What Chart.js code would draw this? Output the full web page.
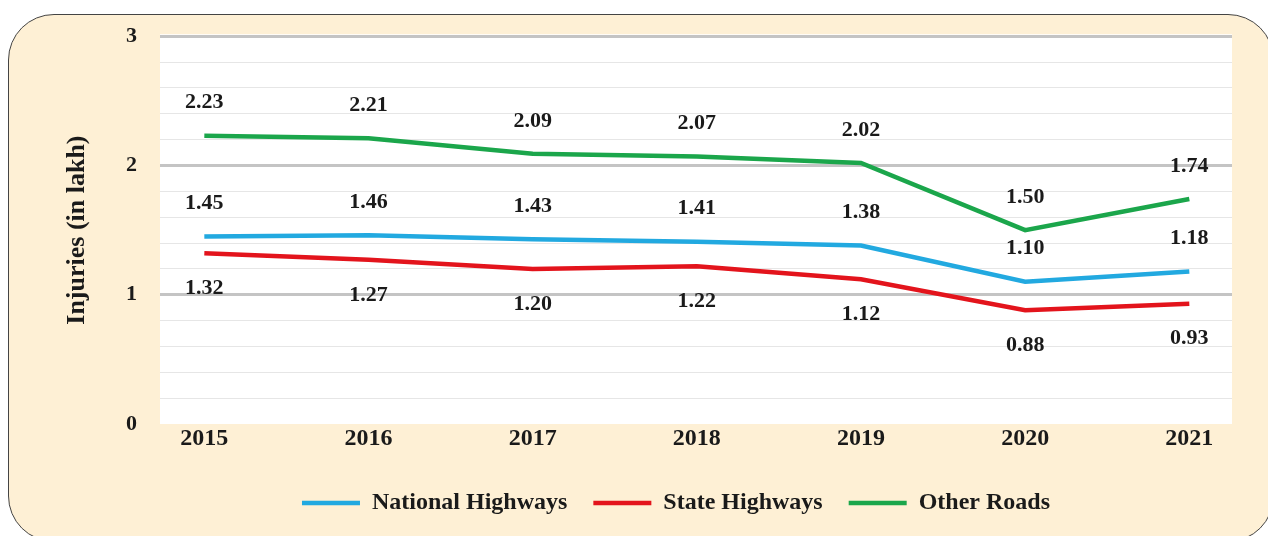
<!DOCTYPE html>
<html>
<head>
<meta charset="utf-8">
<script src="https://cdn.jsdelivr.net/npm/chart.js@4.4.0/dist/chart.umd.min.js"></script>
<style>
  html, body { margin: 0; padding: 0; background: #fff; }
  #wrap { position: relative; width: 1268px; height: 536px; overflow: hidden; }
  #box { position: absolute; left: 8px; top: 14px; width: 1266px; height: 528px; box-sizing: border-box;
         background: #fef0d5; border: 1px solid #444; border-radius: 46px; }
  canvas { position: absolute; left: 0; top: 0; }
</style>
</head>
<body>
<div id="wrap">
  <div id="box"></div>
  <canvas id="grafico" width="1268" height="536"></canvas>
</div>
<script>
// datos del grafico
var years = [2015, 2016, 2017, 2018, 2019, 2020, 2021];
var nationalHighways = [1.45, 1.46, 1.43, 1.41, 1.38, 1.10, 1.18];
var stateHighways = [1.32, 1.27, 1.20, 1.22, 1.12, 0.88, 0.93];
var otherRoads = [2.23, 2.21, 2.09, 2.07, 2.02, 1.50, 1.74];
var yTicks = [0, 1, 2, 3];

var serif = "'Liberation Serif', 'Times New Roman', serif";

function toPoints(values) { //junta años y valores
    return years.map((y, i) => ({ x: y, y: values[i] }));
}

function isInt(v) {
    return Math.abs(v - Math.round(v)) < 1e-6;
}

var fondoBlanco = { //pinta el area del grafico en blanco
    id: 'fondoBlanco',
    beforeDraw(chart) {
        var a = chart.chartArea;
        var ctx = chart.ctx;
        ctx.save();
        ctx.fillStyle = '#ffffff';
        ctx.fillRect(a.left, a.top - 2, a.right - a.left, a.bottom - a.top + 2);
        ctx.restore();
    }
};

var moverLeyenda = { //corre la leyenda un poco a la derecha
    id: 'moverLeyenda',
    afterLayout(chart) {
        chart.legend.left += 30;
        chart.legend.right += 30;
    }
};

var etiquetas = { //valores encima/debajo de cada punto
    id: 'etiquetas',
    afterDatasetsDraw(chart) {
        var ctx = chart.ctx;
        ctx.save();
        ctx.font = 'bold 22px ' + serif;
        ctx.fillStyle = '#1a1a1a';
        ctx.textAlign = 'center';
        ctx.textBaseline = 'middle';
        chart.data.datasets.forEach((ds, i) => {
            var meta = chart.getDatasetMeta(i);
            meta.data.forEach((pt, j) => {
                ctx.fillText(ds.data[j].y.toFixed(2), pt.x, pt.y + ds.labelOffset);
            });
        });
        ctx.restore();
    }
};

var popCanvas = document.getElementById("grafico");
var lineChart = new Chart(popCanvas, {
    type: 'line',
    data: {
        datasets: [{
            label: 'National Highways',
            data: toPoints(nationalHighways),
            borderColor: '#22a9e0',
            backgroundColor: '#22a9e0',
            borderWidth: 4.5,
            pointRadius: 0,
            labelOffset: -33
        }, {
            label: 'State Highways',
            data: toPoints(stateHighways),
            borderColor: '#e3141c',
            backgroundColor: '#e3141c',
            borderWidth: 4.5,
            pointRadius: 0,
            labelOffset: 35
        }, {
            label: 'Other Roads',
            data: toPoints(otherRoads),
            borderColor: '#1ba64b',
            backgroundColor: '#1ba64b',
            borderWidth: 4.5,
            pointRadius: 0,
            labelOffset: -33
        }]
    },
    options: {
        responsive: false,
        animation: false,
        layout: { padding: { left: 60, right: 36, top: 36, bottom: 11 } },
        plugins: {
            tooltip: { enabled: false },
            legend: {
                position: 'bottom',
                labels: {
                    usePointStyle: true,
                    pointStyle: 'line',
                    pointStyleWidth: 58,
                    padding: 26,
                    color: '#1a1a1a',
                    font: { family: serif, size: 24, weight: 'bold' }
                }
            }
        },
        scales: {
            x: {
                type: 'linear',
                min: 2014.73,
                max: 2021.26,
                afterBuildTicks: s => { s.ticks = years.map(v => ({ value: v })); },
                afterFit: s => { s.height = 41; },
                grid: { display: false, drawTicks: false },
                border: { display: false },
                ticks: {
                    padding: 0,
                    autoSkip: false,
                    color: '#1a1a1a',
                    font: { family: serif, size: 24, weight: 'bold' },
                    callback: v => String(v)
                }
            },
            y: {
                min: 0,
                max: 3,
                afterBuildTicks: s => {
                    var t = [];
                    for (var k = 0; k <= 15; k++) t.push({ value: k / 5 });
                    s.ticks = t;
                },
                afterFit: s => { s.width = 100; },
                border: { display: false },
                grid: {
                    drawTicks: false,
                    color: c => isInt(c.tick.value) && c.tick.value > 0 ? '#c4c4c4' : (c.tick.value > 0 ? '#e6e6e6' : 'rgba(0,0,0,0)'),
                    lineWidth: c => isInt(c.tick.value) ? 3 : 1
                },
                ticks: {
                    padding: 23,
                    autoSkip: false,
                    color: '#1a1a1a',
                    font: { family: serif, size: 22, weight: 'bold' },
                    callback: v => (isInt(v) && yTicks.indexOf(Math.round(v)) >= 0) ? String(Math.round(v)) : ''
                },
                title: {
                    display: true,
                    text: 'Injuries (in lakh)',
                    color: '#1a1a1a',
                    font: { family: serif, size: 26, weight: 'bold' },
                    padding: { top: 2, bottom: 0 }
                }
            }
        }
    },
    plugins: [fondoBlanco, moverLeyenda, etiquetas]
});
</script>
</body>
</html>
